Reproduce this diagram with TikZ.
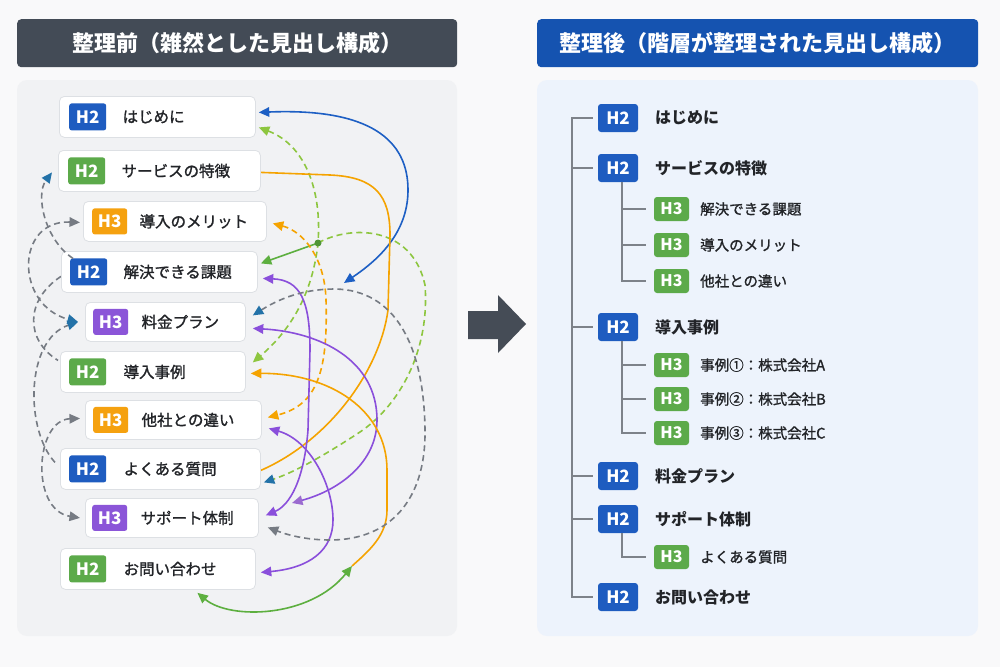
\documentclass[tikz,border=0pt]{standalone}
\usepackage{fontspec}
\setmainfont{Noto Sans CJK JP}
\newfontfamily\medfont[FakeBold=1.3]{Noto Sans CJK JP}
\usetikzlibrary{arrows.meta}
\pgfdeclarelayer{panel}
\pgfdeclarelayer{wires}
\pgfsetlayers{panel,wires,main}

\definecolor{pagebg}{HTML}{F9F9FA}
\definecolor{leftbg}{HTML}{F1F2F4}
\definecolor{rightbg}{HTML}{EDF3FC}
\definecolor{headdark}{HTML}{434B56}
\definecolor{headblue}{HTML}{1553B0}
\definecolor{boxline}{HTML}{DDE0E4}
\definecolor{cblue}{HTML}{1E5CC0}
\definecolor{cgreen}{HTML}{5CAA4A}
\definecolor{corange}{HTML}{F5A10F}
\definecolor{cpurple}{HTML}{8B55D8}
\definecolor{txt}{HTML}{222428}
\definecolor{treeline}{HTML}{7D828A}
\definecolor{wblue}{HTML}{1D5FC4}
\definecolor{wlgreen}{HTML}{8DC63F}
\definecolor{wgreen}{HTML}{5DAF3F}
\definecolor{worange}{HTML}{F5A300}
\definecolor{wpurple}{HTML}{8A4FDB}
\definecolor{wlpurple}{HTML}{9B6BD0}
\definecolor{wgray}{HTML}{767B83}
\definecolor{wteal}{HTML}{2372A8}
\definecolor{arrowfill}{HTML}{454C56}

\tikzset{
  T/.tip={Triangle[length=10.5pt,width=9.5pt]},
  Tt/.tip={Triangle[length=10.5pt,width=9.5pt,color=wteal]},
  Tlp/.tip={Triangle[length=10.5pt,width=9.5pt,color=wlpurple]},
  lbox/.style={draw=boxline, line width=0.8pt, fill=white, rounded corners=5pt,
    minimum height=41pt, anchor=north west, inner sep=0pt},
  badge/.style={fill=#1, rounded corners=2.5pt, text=white,
    font=\bfseries\fontsize{17}{17}\selectfont, minimum width=37pt,
    minimum height=27pt, inner sep=0pt, anchor=west},
  hbadge/.style={badge=#1, minimum width=35pt, minimum height=26pt},
  ltext/.style={anchor=west, inner sep=0pt, text=txt,
    font=\medfont\fontsize{15.5}{15.5}\selectfont},
  header/.style={fill=#1, rounded corners=4pt, minimum width=440pt,
    minimum height=48pt, anchor=north west, text=white, inner sep=0pt,
    font=\bfseries\fontsize{22}{22}\selectfont},
  rbadge/.style={fill=cblue, rounded corners=3pt, text=white,
    font=\bfseries\fontsize{17}{17}\selectfont, minimum width=40pt,
    minimum height=28pt, inner sep=0pt},
  sbadge/.style={fill=cgreen, rounded corners=3pt, text=white,
    font=\bfseries\fontsize{16}{16}\selectfont, minimum width=35pt,
    minimum height=24pt, inner sep=0pt},
  rtext/.style={anchor=west, inner sep=0pt, text=txt,
    font=\bfseries\fontsize{16}{16}\selectfont},
  stext/.style={anchor=west, inner sep=0pt, text=txt,
    font=\medfont\fontsize{14.5}{14.5}\selectfont},
  tree/.style={draw=treeline, line width=2pt},
  wire/.style={line width=1.6pt},
  dsh/.style={dash pattern=on 6pt off 4pt},
  jdot/.style={circle, fill=wgreen!85!black, minimum size=7pt, inner sep=0pt}
}

\begin{document}
\begin{tikzpicture}[x=1pt,y=-1pt]
\useasboundingbox (0,0) rectangle (1000,667);
\begin{pgfonlayer}{panel}
  \fill[pagebg] (0,0) rectangle (1000,667);
  \fill[leftbg, rounded corners=10pt] (17,80) rectangle (457,636);
  \fill[rightbg, rounded corners=10pt] (537,80) rectangle (978,636);
\end{pgfonlayer}

% headers
\node[header=headdark] (hl) at (17,19) {整理前（雑然とした見出し構成）};
\node[header=headblue, minimum width=441pt] (hr) at (537,19) {整理後（階層が整理された見出し構成）};

% big arrow
\fill[arrowfill] (468,311) -- (498,311) -- (498,295) -- (526,324) -- (498,353) -- (498,339) -- (468,339) -- cycle;

% ---------- left boxes ----------
\node[lbox, minimum width=196pt] (n1) at (59,96) {};
\node[badge=cblue] (b1) at ([xshift=10pt]n1.west) {H2};
\node[ltext] (t1) at ([xshift=16pt]b1.east) {はじめに};

\node[lbox, minimum width=202pt] (n2) at (58,150) {};
\node[badge=cgreen] (b2) at ([xshift=10pt]n2.west) {H2};
\node[ltext] (t2) at ([xshift=16pt]b2.east) {サービスの特徴};

\node[lbox, minimum width=183pt, minimum height=40pt] (n3) at (83,201) {};
\node[hbadge=corange] (b3) at ([xshift=9pt]n3.west) {H3};
\node[ltext] (t3) at ([xshift=12pt]b3.east) {導入のメリット};

\node[lbox, minimum width=196pt] (n4) at (61,251) {};
\node[badge=cblue] (b4) at ([xshift=9pt]n4.west) {H2};
\node[ltext] (t4) at ([xshift=16pt]b4.east) {解決できる課題};

\node[lbox, minimum width=160pt, minimum height=39pt] (n5) at (85,302) {};
\node[hbadge=cpurple] (b5) at ([xshift=8pt]n5.west) {H3};
\node[ltext] (t5) at ([xshift=13pt]b5.east) {料金プラン};

\node[lbox, minimum width=185pt] (n6) at (60,351) {};
\node[badge=cgreen] (b6) at ([xshift=9pt]n6.west) {H2};
\node[ltext] (t6) at ([xshift=17pt]b6.east) {導入事例};

\node[lbox, minimum width=176pt, minimum height=39pt] (n7) at (85,400) {};
\node[hbadge=corange] (b7) at ([xshift=8pt]n7.west) {H3};
\node[ltext] (t7) at ([xshift=13pt]b7.east) {他社との違い};

\node[lbox, minimum width=200pt] (n8) at (60,448) {};
\node[badge=cblue] (b8) at ([xshift=9pt]n8.west) {H2};
\node[ltext] (t8) at ([xshift=17pt]b8.east) {よくある質問};

\node[lbox, minimum width=173pt, minimum height=39pt] (n9) at (85,498) {};
\node[hbadge=cpurple] (b9) at ([xshift=7pt]n9.west) {H3};
\node[ltext] (t9) at ([xshift=13pt]b9.east) {サポート体制};

\node[lbox, minimum width=195pt] (n10) at (60,548) {};
\node[badge=cgreen] (b10) at ([xshift=9pt]n10.west) {H2};
\node[ltext] (t10) at ([xshift=17pt]b10.east) {お問い合わせ};

% junctions
\node[jdot] (gj) at (318,243) {};
\coordinate (bluefree) at (344,283);
\coordinate (purplefree) at (292,503);
\coordinate (jn) at (352,566);

% ---------- messy connectors ----------
\begin{pgfonlayer}{wires}
\draw[wire, wblue, {T}-{T}] ([xshift=3pt,yshift=4.5pt]n1.east) .. controls (370,108) and (408,140) .. (408,190) .. controls (408,235) and (375,262) .. (bluefree);
\draw[wire, wlgreen, dsh, {T}-{T}] ([xshift=3pt,yshift=-10.5pt]n1.east) .. controls (305,145) and (322,190) .. (gj.center) .. controls (312,300) and (285,335) .. ([xshift=7pt,yshift=9.5pt]n6.east);
\draw[wire, wgreen, -{T}] (gj.center) -- ([xshift=3pt,yshift=8.5pt]n4.east);
\draw[wire, wlgreen, dsh, -{Tt}] (gj.center) .. controls (350,225) and (412,225) .. (425,285) .. controls (430,350) and (400,405) .. (360,432) .. controls (325,455) and (295,472) .. ([xshift=3pt,yshift=-13.5pt]n8.east);
\draw[wire, worange] ([yshift=-1.5pt]n2.east) -- (330,175) .. controls (375,177) and (390,195) .. (390,235) -- (388,310) .. controls (380,370) and (330,440) .. ([yshift=-1.5pt]n8.east);
\draw[wire, worange, dsh, {T}-{T}] ([xshift=6pt,yshift=-2pt]n3.east) .. controls (305,232) and (325,260) .. (326,300) .. controls (328,370) and (318,405) .. ([xshift=6pt,yshift=2.5pt]n7.east);
\draw[wire, wpurple, {T}-{T}] ([xshift=5pt,yshift=-6.5pt]n4.east) .. controls (300,280) and (310,300) .. (310,350) -- (308,430) .. controls (304,480) and (290,505) .. ([xshift=7pt,yshift=2.5pt]n9.east);
\draw[wire, wpurple, {T}-{Tlp}] ([xshift=7pt,yshift=-6.5pt]n5.east) .. controls (320,332) and (377,360) .. (377,420) .. controls (377,462) and (340,490) .. (purplefree);
\draw[wire, wpurple, {T}-{T}] ([xshift=7pt,yshift=-8.5pt]n7.east) .. controls (310,440) and (333,485) .. (333,520) .. controls (333,550) and (310,568) .. ([xshift=5pt,yshift=-3.5pt]n10.east);
\draw[wire, worange, {T}-] ([xshift=5pt,yshift=-1.5pt]n6.east) .. controls (330,373) and (387,410) .. (387,470) -- (387,510) .. controls (387,535) and (370,550) .. (jn);
\draw[wire, wgreen, {T}-{T}] ([xshift=39.5pt,yshift=-3pt]n10.south) .. controls (230,620) and (310,618) .. (jn);
\draw[wire, wgray, dsh, {Tt}-{T}] ([xshift=7pt,yshift=6.5pt]n5.east) .. controls (285,295) and (310,289) .. (335,289) .. controls (395,290) and (424,345) .. (425,430) .. controls (426,500) and (390,540) .. (330,540) .. controls (300,540) and (280,532) .. ([xshift=9pt,yshift=-9.5pt]n9.east);
% left side
\draw[wire, wgray, dsh, {T}-{Tt}] ([xshift=-3pt,yshift=-1pt]n3.west) .. controls (15,220) and (15,305) .. ([xshift=-7pt]n5.west);
\draw[wire, wgray, dsh] ([yshift=-4.5pt]n4.west) .. controls (25,300) and (25,340) .. ([xshift=-2pt,yshift=11.5pt]n6.west);
\draw[wire, wgray, dsh, -{Tt}] ([xshift=-5pt,yshift=6.5pt]n8.west) .. controls (25,430) and (25,340) .. ([xshift=-7pt]n5.west);
\draw[wire, wgray, dsh, {T}-{T}] ([xshift=-5pt,yshift=1.5pt]n7.west) .. controls (35,420) and (30,510) .. ([xshift=-5pt]n9.west);
\end{pgfonlayer}
\draw[wire, wgray, dsh, -{Tt}] ([xshift=12pt,yshift=13.5pt]n4.west) .. controls (45,240) and (35,195) .. ([xshift=-6pt,yshift=-1.5pt]n2.west);

% ---------- right tree ----------
\node[rbadge] (r1) at (618,118) {H2};
\node[rtext] at (655,118) {はじめに};
\node[rbadge] (r2) at (618,168) {H2};
\node[rtext] at (655,168) {サービスの特徴};
\node[sbadge] (s1) at (671.5,209) {H3};
\node[stext] at (700,209) {解決できる課題};
\node[sbadge] (s2) at (671.5,245) {H3};
\node[stext] at (700,245) {導入のメリット};
\node[sbadge] (s3) at (671.5,281) {H3};
\node[stext] at (700,281) {他社との違い};
\node[rbadge] (r3) at (618,327) {H2};
\node[rtext] at (655,327) {導入事例};
\node[sbadge] (s4) at (671.5,365) {H3};
\node[stext] at (700,365) {事例①：株式会社A};
\node[sbadge] (s5) at (671.5,399) {H3};
\node[stext] at (700,399) {事例②：株式会社B};
\node[sbadge] (s6) at (671.5,433) {H3};
\node[stext] at (700,433) {事例③：株式会社C};
\node[rbadge] (r4) at (618,476) {H2};
\node[rtext] at (655,476) {料金プラン};
\node[rbadge] (r5) at (618,519) {H2};
\node[rtext] at (655,519) {サポート体制};
\node[sbadge] (s7) at (671.5,557) {H3};
\node[stext] at (700,557) {よくある質問};
\node[rbadge] (r6) at (618,597) {H2};
\node[rtext] at (655,597) {お問い合わせ};

\coordinate (trunk) at (572,0);
\draw[tree] ([xshift=-5pt]r1.west) -- (r1.west -| trunk) -- (r6.west -| trunk) -- ([xshift=-5pt]r6.west);
\foreach \r in {r2,r3,r4,r5} \draw[tree] (\r.west -| trunk) -- ([xshift=-5pt]\r.west);
\foreach \s in {s1,s2,s3} \draw[tree] ([xshift=4pt]r2.south) |- ([xshift=-8pt]\s.west);
\foreach \s in {s4,s5,s6} \draw[tree] ([xshift=4pt]r3.south) |- ([xshift=-8pt]\s.west);
\draw[tree] ([xshift=4pt]r5.south) |- ([xshift=-8pt]s7.west);
\end{tikzpicture}
\end{document}
